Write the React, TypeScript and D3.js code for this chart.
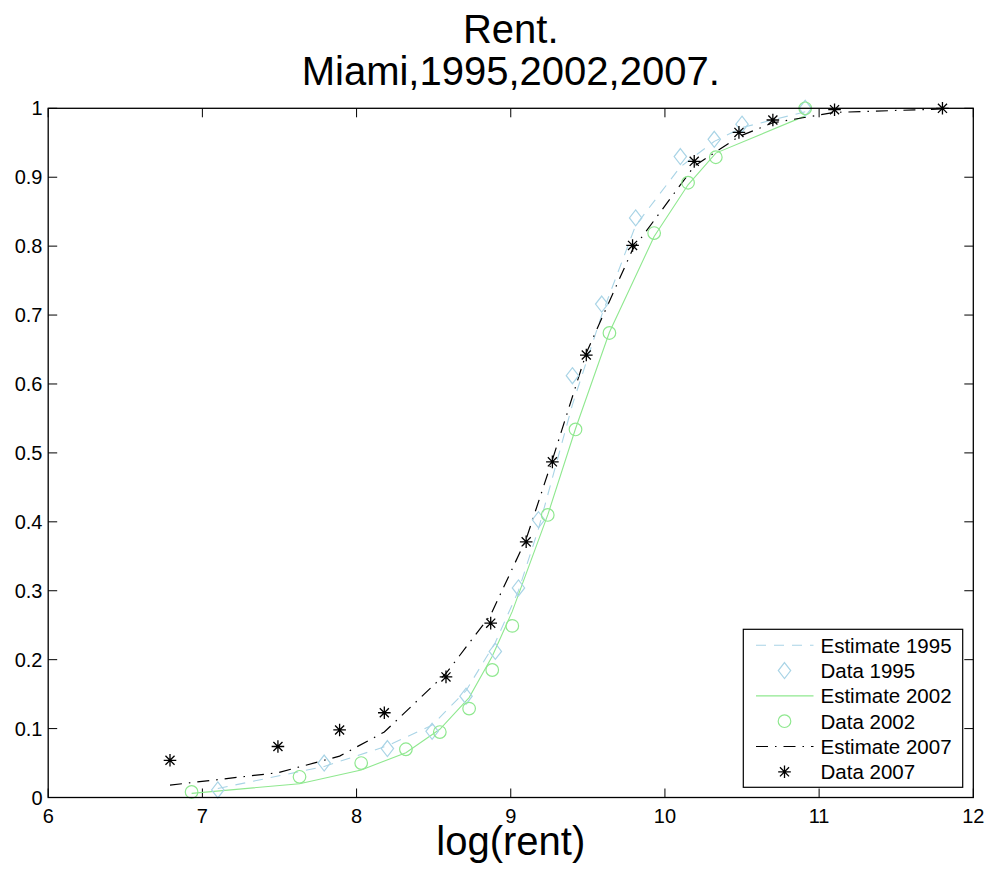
import React from "react";
import * as d3 from "d3";

const xTicks = [6, 7, 8, 9, 10, 11, 12];
const yTicks = [0, 0.1, 0.2, 0.3, 0.4, 0.5, 0.6, 0.7, 0.8, 0.9, 1];

const x1995 = [7.10, 7.79, 8.20, 8.49, 8.71, 8.90, 9.05, 9.18, 9.40, 9.59, 9.81, 10.10, 10.32, 10.50, 10.91];
const data1995 = [0.011, 0.050, 0.071, 0.096, 0.147, 0.212, 0.304, 0.403, 0.612, 0.716, 0.841, 0.930, 0.955, 0.977, 1.0];
const est1995 = [0.013, 0.045, 0.075, 0.105, 0.155, 0.225, 0.30, 0.39, 0.57, 0.70, 0.83, 0.915, 0.952, 0.972, 0.995];

const x2002 = [6.93, 7.63, 8.03, 8.32, 8.54, 8.73, 8.88, 9.01, 9.24, 9.42, 9.64, 9.93, 10.15, 10.33, 10.91];
const data2002 = [0.008, 0.030, 0.050, 0.070, 0.095, 0.129, 0.185, 0.249, 0.410, 0.534, 0.674, 0.819, 0.892, 0.929, 1.0];
const est2002 = [0.006, 0.020, 0.040, 0.065, 0.099, 0.145, 0.205, 0.27, 0.41, 0.535, 0.675, 0.814, 0.889, 0.935, 0.989];

const x2007 = [6.79, 7.49, 7.89, 8.18, 8.58, 8.87, 9.10, 9.27, 9.49, 9.79, 10.19, 10.48, 10.70, 11.10, 11.80];
const data2007 = [0.054, 0.074, 0.098, 0.123, 0.175, 0.253, 0.371, 0.487, 0.642, 0.801, 0.923, 0.965, 0.983, 0.998, 1.0];
const est2007 = [0.018, 0.036, 0.060, 0.095, 0.18, 0.265, 0.375, 0.49, 0.645, 0.795, 0.916, 0.959, 0.979, 0.994, 0.999];

const legendLabels = ["Estimate 1995", "Data 1995", "Estimate 2002", "Data 2002", "Estimate 2007", "Data 2007"];

const BLUE = "#a9d4e6";
const GREEN = "#8fe88f";
const FONT = "'Liberation Sans', Arial, Helvetica, sans-serif";

const L = 48.2, R = 973.3, T = 108.3, B = 797.5;

function Diamond({ cx, cy, color }: { cx: number; cy: number; color: string }) {
  return (
    <path
      d={`M${cx},${cy - 8} L${cx + 6.2},${cy} L${cx},${cy + 8} L${cx - 6.2},${cy} Z`}
      fill="none"
      stroke={color}
      strokeWidth={1.2}
    />
  );
}

function Circ({ cx, cy, color }: { cx: number; cy: number; color: string }) {
  return <circle cx={cx} cy={cy} r={6.3} fill="none" stroke={color} strokeWidth={1.2} />;
}

function Star({ cx, cy, color }: { cx: number; cy: number; color: string }) {
  const r = 6.3;
  const d = r * 0.72;
  return (
    <path
      d={`M${cx - r},${cy} L${cx + r},${cy} M${cx},${cy - r} L${cx},${cy + r} M${cx - d},${cy - d} L${cx + d},${cy + d} M${cx - d},${cy + d} L${cx + d},${cy - d}`}
      stroke={color}
      strokeWidth={1.3}
      fill="none"
    />
  );
}

export default function App() {
  const xs = d3.scaleLinear().domain([6, 12]).range([L, R]);
  const ys = d3.scaleLinear().domain([0, 1]).range([B, T]);

  const mk = (xa: number[], ya: number[]) =>
    d3
      .line<number>()
      .x((_, i) => xs(xa[i]))
      .y((v) => ys(v))(ya) || "";

  const series = [
    { xa: x1995, data: data1995, est: est1995, color: BLUE, dash: "10,8", width: 1.1, marker: "diamond" },
    { xa: x2002, data: data2002, est: est2002, color: GREEN, dash: undefined, width: 1.1, marker: "circle" },
    { xa: x2007, data: data2007, est: est2007, color: "#000", dash: "12,7,1.5,7", width: 1.2, marker: "star" },
  ];

  const drawMarker = (m: string, cx: number, cy: number, color: string, key: any) => {
    if (m === "diamond") return <Diamond key={key} cx={cx} cy={cy} color={color} />;
    if (m === "circle") return <Circ key={key} cx={cx} cy={cy} color={color} />;
    return <Star key={key} cx={cx} cy={cy} color={color} />;
  };

  const tickLen = 9;
  const legX = 743.3, legY = 629.3, legW = 219.4, legH = 158;
  const rowY = (i: number) => 645.3 + i * 25.3;

  return (
    <svg
      width={993}
      height={880}
      style={{ position: "absolute", left: 0, top: 0, background: "#fff" }}
      fontFamily={FONT}
    >
      <rect x={0} y={0} width={993} height={880} fill="#fff" />
      <text x={(L + R) / 2} y={43} textAnchor="middle" fontSize={40}>Rent.</text>
      <text x={(L + R) / 2} y={85} textAnchor="middle" fontSize={40}>Miami,1995,2002,2007.</text>

      {/* ticks */}
      {xTicks.map((t) => (
        <g key={"xt" + t}>
          <line x1={xs(t)} x2={xs(t)} y1={B} y2={B - tickLen} stroke="#000" strokeWidth={1} />
          <line x1={xs(t)} x2={xs(t)} y1={T} y2={T + tickLen} stroke="#000" strokeWidth={1} />
          <text x={xs(t)} y={823} textAnchor="middle" fontSize={20}>{t}</text>
        </g>
      ))}
      {yTicks.map((t) => (
        <g key={"yt" + t}>
          <line x1={L} x2={L + tickLen} y1={ys(t)} y2={ys(t)} stroke="#000" strokeWidth={1} />
          <line x1={R} x2={R - tickLen} y1={ys(t)} y2={ys(t)} stroke="#000" strokeWidth={1} />
          <text x={42.5} y={ys(t) + 7} textAnchor="end" fontSize={20}>{d3.format("~g")(t)}</text>
        </g>
      ))}

      {/* estimate lines */}
      {series.map((s, i) => (
        <path key={"l" + i} d={mk(s.xa, s.est)} fill="none" stroke={s.color} strokeWidth={s.width} strokeDasharray={s.dash} />
      ))}
      {/* data markers */}
      {series.map((s, i) => (
        <g key={"m" + i}>{s.data.map((v, j) => drawMarker(s.marker, xs(s.xa[j]), ys(v), s.color, j))}</g>
      ))}

      <rect x={L} y={T} width={R - L} height={B - T} fill="none" stroke="#000" strokeWidth={1.3} />

      {/* legend */}
      <rect x={legX} y={legY} width={legW} height={legH} fill="#fff" stroke="#000" strokeWidth={1.2} />
      {series.map((s, i) => (
        <g key={"lg" + i}>
          <line x1={756} x2={813.5} y1={rowY(2 * i)} y2={rowY(2 * i)} stroke={s.color} strokeWidth={s.width} strokeDasharray={s.dash} />
          <text x={820.5} y={rowY(2 * i) + 7.3} fontSize={20.5}>{legendLabels[2 * i]}</text>
          {drawMarker(s.marker, 784.5, rowY(2 * i + 1), s.color, "m")}
          <text x={820.5} y={rowY(2 * i + 1) + 7.3} fontSize={20.5}>{legendLabels[2 * i + 1]}</text>
        </g>
      ))}

      <text x={(L + R) / 2} y={855} textAnchor="middle" fontSize={40}>log(rent)</text>
    </svg>
  );
}
